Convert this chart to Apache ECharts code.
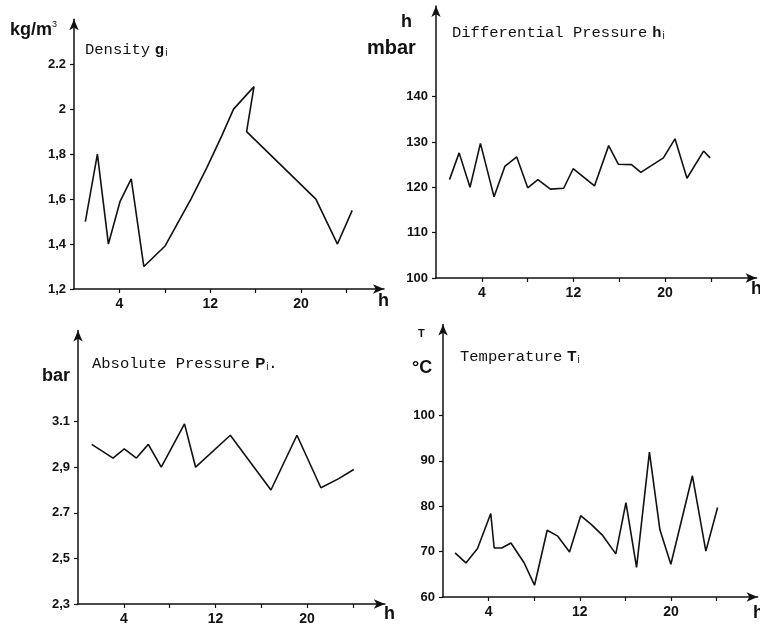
<!DOCTYPE html>
<html><head><meta charset="utf-8">
<script src="https://cdn.jsdelivr.net/npm/echarts@6.0.0/dist/echarts.min.js"></script>
<style>html,body{margin:0;padding:0;background:#fff}#c{width:760px;height:630px}</style>
</head><body><div id="c"></div>
<script>
// ---- data (hours, values) ----
const xTickValues = [4, 8, 12, 16, 20, 24];
const xTickLabels = [4, 12, 20];

const densityHours  = [1.0, 2.06, 3.03, 4.06, 5.04, 6.15, 8.0, 10.3, 11.7, 13.0, 14.05, 15.85, 15.2, 21.3, 23.2, 24.5];
const densityValues = [1.50, 1.80, 1.40, 1.59, 1.69, 1.30, 1.39, 1.60, 1.74, 1.88, 2.00, 2.10, 1.90, 1.60, 1.40, 1.55];
const densityTicks  = [1.2, 1.4, 1.6, 1.8, 2.0, 2.2];
const densityLabels = ['1,2', '1,4', '1,6', '1,8', '2', '2.2'];

const diffHours  = [1.18, 2.02, 2.97, 3.88, 5.07, 6.01, 7.05, 8.01, 8.9, 9.99, 11.15, 11.98, 13.84, 15.08, 15.92, 17.08, 17.89, 19.86, 20.87, 21.92, 23.37, 23.94];
const diffValues = [121.7, 127.6, 120.0, 129.7, 117.9, 124.6, 126.7, 119.9, 121.7, 119.6, 119.8, 124.1, 120.3, 129.2, 125.1, 125.0, 123.3, 126.5, 130.7, 122.0, 128.0, 126.5];
const diffTicks  = [100, 110, 120, 130, 140];
const diffLabels = ['100', '110', '120', '130', '140'];

const absHours  = [1.2, 3.06, 4.04, 5.1, 6.14, 7.27, 9.3, 10.27, 13.3, 16.85, 19.12, 21.21, 22.77, 24.08];
const absValues = [3.00, 2.94, 2.98, 2.94, 3.00, 2.90, 3.09, 2.90, 3.04, 2.80, 3.04, 2.81, 2.85, 2.89];
const absTicks  = [2.3, 2.5, 2.7, 2.9, 3.1];
const absLabels = ['2,3', '2,5', '2.7', '2,9', '3.1'];

const tempHours  = [1.06, 2.01, 3.03, 4.19, 4.49, 5.16, 5.96, 7.1, 8.03, 9.14, 10.07, 11.1, 12.08, 13.0, 13.96, 15.16, 16.05, 16.98, 18.11, 19.03, 19.99, 21.88, 23.06, 24.09];
const tempValues = [69.7, 67.5, 70.7, 78.4, 70.8, 70.8, 71.9, 67.6, 62.6, 74.7, 73.4, 69.9, 77.9, 76.0, 73.7, 69.5, 80.8, 66.5, 91.9, 74.8, 67.2, 86.7, 70.1, 79.7];
const tempTicks  = [60, 70, 80, 90, 100];
const tempLabels = ['60', '70', '80', '90', '100'];

// ---- chart ----
const INK = '#111';
const SANS = 'Liberation Sans, Arial, sans-serif';
const MONO = 'Liberation Mono, Courier New, monospace';

const panels = [
  { grid: {left: 74, top: 19.2, width: 310, height: 269.8}, xmax: 27.3, ymin: 1.2, ymax: 2.4, ticks: densityTicks, labels: densityLabels, hours: densityHours, values: densityValues },
  { grid: {left: 436, top: 6, width: 320.6, height: 272}, xmax: 28, ymin: 100, ymax: 160, ticks: diffTicks, labels: diffLabels, hours: diffHours, values: diffValues },
  { grid: {left: 78, top: 330.4, width: 306.9, height: 273.6}, xmax: 26.8, ymin: 2.3, ymax: 3.5, ticks: absTicks, labels: absLabels, hours: absHours, values: absValues },
  { grid: {left: 443, top: 324.6, width: 314.6, height: 272.4}, xmax: 27.6, ymin: 60, ymax: 120, ticks: tempTicks, labels: tempLabels, hours: tempHours, values: tempValues }
];

const axisLine = { show: true, lineStyle: {color: INK, width: 1.5}, symbol: ['none', 'arrow'], symbolSize: [7, 11], symbolOffset: [0, 0] };

const option = {
  backgroundColor: '#fff',
  animation: false,
  grid: panels.map(p => Object.assign({containLabel: false}, p.grid)),
  xAxis: panels.map((p, i) => ({
    type: 'value', gridIndex: i, min: 0, max: p.xmax,
    splitLine: {show: false},
    axisLine: axisLine,
    axisTick: {show: true, length: 4, lineStyle: {color: INK, width: 1.2}, customValues: xTickValues},
    axisLabel: {show: true, customValues: xTickLabels, margin: 8, color: INK, fontFamily: SANS, fontSize: 14, fontWeight: 'bold', formatter: v => String(v)}
  })),
  yAxis: panels.map((p, i) => ({
    type: 'value', gridIndex: i, min: p.ymin, max: p.ymax,
    splitLine: {show: false},
    axisLine: axisLine,
    axisTick: {show: true, length: 4, lineStyle: {color: INK, width: 1.2}, customValues: p.ticks},
    axisLabel: {show: true, customValues: p.ticks, margin: 8, color: INK, fontFamily: SANS, fontSize: 13, fontWeight: 'bold',
      formatter: v => { const k = p.ticks.findIndex(t => Math.abs(t - v) < 1e-6); return k >= 0 ? p.labels[k] : ''; }}
  })),
  series: panels.map((p, i) => ({
    type: 'line', xAxisIndex: i, yAxisIndex: i, showSymbol: false, symbol: 'none',
    lineStyle: {color: INK, width: 1.6}, itemStyle: {color: INK},
    data: p.hours.map((h, k) => [h, p.values[k]])
  })),
  title: [
    {left: 85, top: 41, text: '{m|Density} {b|g}{s|i}'},
    {left: 452, top: 24, text: '{m|Differential Pressure} {b|h}{s|i}'},
    {left: 92, top: 355, text: '{m|Absolute Pressure} {b|P}{s|i}{m|.}'},
    {left: 460, top: 348, text: '{m|Temperature} {b|T}{s|i}'},
    {left: 10, top: 20, text: '{u|kg/m}{e|3}'},
    {left: 401, top: 12, text: '{u|h}'},
    {left: 367, top: 37, text: '{w|mbar}'},
    {left: 42, top: 366, text: '{u|bar}'},
    {left: 418, top: 328, text: '{t|T}'},
    {left: 412, top: 358, text: '{u|°C}'},
    {left: 378, top: 291, text: '{u|h}'},
    {left: 751, top: 279, text: '{u|h}'},
    {left: 384, top: 604, text: '{u|h}'},
    {left: 753, top: 603, text: '{u|h}'}
  ].map(t => Object.assign(t, {
    padding: 0,
    textStyle: {fontWeight: 'normal', rich: {
      m: {fontFamily: MONO, fontSize: 15.5, fontWeight: 'normal', color: INK, lineHeight: 18},
      b: {fontFamily: SANS, fontSize: 15, fontWeight: 'bold', color: INK, lineHeight: 18},
      s: {fontFamily: SANS, fontSize: 10, fontWeight: 'normal', color: INK, lineHeight: 18, padding: [6, 0, 0, 1]},
      u: {fontFamily: SANS, fontSize: 18, fontWeight: 'bold', color: INK, lineHeight: 20},
      w: {fontFamily: SANS, fontSize: 20, fontWeight: 'bold', color: INK, lineHeight: 22},
      e: {fontFamily: SANS, fontSize: 9, fontWeight: 'normal', color: INK, lineHeight: 20, padding: [0, 0, 10, 0]},
      t: {fontFamily: SANS, fontSize: 11, fontWeight: 'bold', color: INK, lineHeight: 12}
    }}
  }))
};

const chart = echarts.init(document.getElementById('c'), null, {renderer: 'canvas'});
chart.setOption(option);
</script>
</body></html>
